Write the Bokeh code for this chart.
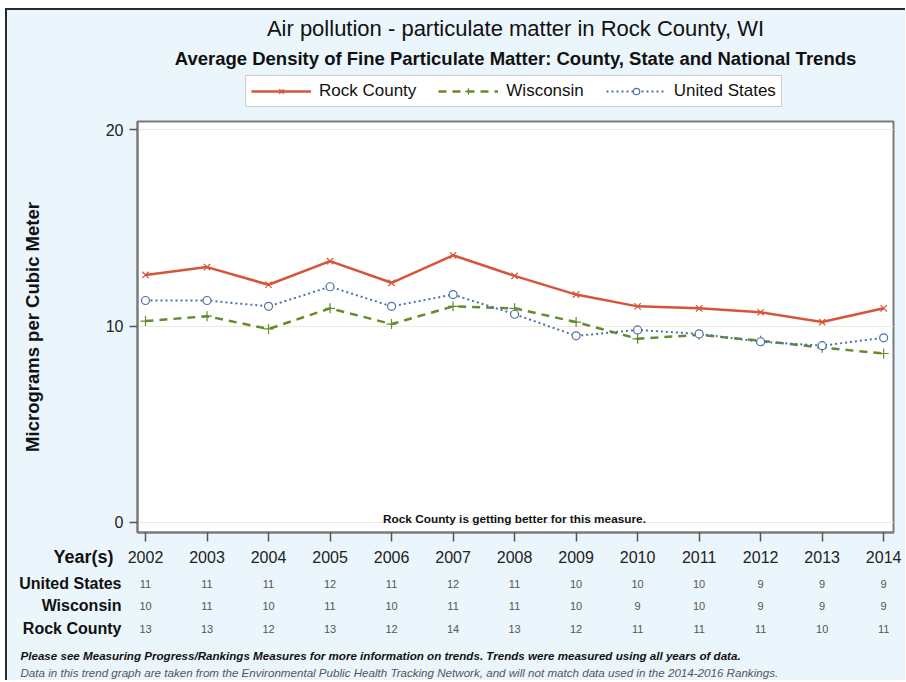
from bokeh.plotting import figure
from bokeh.layouts import column
from bokeh.models import (Label, LabelSet, ColumnDataSource, FixedTicker, Legend, LegendItem, Range1d)
from bokeh.core.properties import value
from bokeh.embed import file_html
from bokeh.resources import INLINE

# ---- data ----
years = [2002, 2003, 2004, 2005, 2006, 2007, 2008, 2009, 2010, 2011, 2012, 2013, 2014]
rock_county = [12.6, 13.0, 12.1, 13.3, 12.2, 13.6, 12.55, 11.6, 11.0, 10.9, 10.7, 10.2, 10.9]
wisconsin = [10.25, 10.5, 9.85, 10.9, 10.1, 11.0, 10.9, 10.2, 9.35, 9.55, 9.25, 8.9, 8.6]
united_states = [11.3, 11.3, 11.0, 12.0, 11.0, 11.6, 10.6, 9.5, 9.8, 9.6, 9.2, 9.0, 9.4]

year_labels = [str(y) for y in years]
tbl_us = ["11", "11", "11", "12", "11", "12", "11", "10", "10", "10", "9", "9", "9"]
tbl_wi = ["10", "11", "10", "11", "10", "11", "11", "10", "9", "10", "9", "9", "9"]
tbl_rock = ["13", "13", "12", "13", "12", "14", "13", "12", "11", "11", "11", "10", "11"]
y_ticks = [0, 10, 20]

title_text = "Air pollution - particulate matter in Rock County, WI"
subtitle_text = "Average Density of Fine Particulate Matter: County, State and National Trends"
note_text = "Rock County is getting better for this measure."
foot1 = "Please see Measuring Progress/Rankings Measures for more information on trends. Trends were measured using all years of data."
foot2 = "Data in this trend graph are taken from the Environmental Public Health Tracking Network, and will not match data used in the 2014-2016 Rankings."

FONT = "Liberation Sans"
BG = "#EBF5FC"
RED = "#D6553A"
GREEN = "#648C2C"
BLUE = "#4A72A6"
DARK = "#111111"

W = 898
H_A, H_B, H_C = 107, 429, 134
B_LEFT, B_RIGHT, B_TOP, B_BOTTOM = 130, 12, 4, 14
X0, X1 = 2001.87, 2014.16
frame_w = W - B_LEFT - B_RIGHT
px_per_year = frame_w / (X1 - X0)


def blank(h, xr, yr):
    f = figure(width=W, height=h, output_backend="svg", toolbar_location=None,
               x_axis_type=None, y_axis_type=None, x_range=xr, y_range=yr, min_border=0,
               frame_align=False)
    f.border_fill_color = BG
    f.background_fill_color = BG
    f.outline_line_color = None
    f.grid.visible = False
    return f


# styles shared by the series (plot and legend)
st_rock = dict(line_color=RED, line_width=2.5)
mk_rock = dict(marker="x", size=9, line_color=RED, line_width=1.2)
st_wi = dict(line_color=GREEN, line_width=2.5, line_dash="8 6")
mk_wi = dict(marker="cross", size=10, line_color=GREEN, line_width=1.2)
st_us = dict(line_color=BLUE, line_width=2, line_dash="2 3")
mk_us = dict(marker="circle", size=8, line_color=BLUE, fill_color="white", line_width=1.2)

# ---------------- header ----------------
A = blank(H_A, Range1d(0, W), Range1d(H_A, 0))
A.add_layout(Label(x=B_LEFT + frame_w / 2, y=18, text=title_text, text_align="center",
                   text_baseline="middle", text_font=FONT, text_font_size="22px", text_color=DARK))
A.add_layout(Label(x=B_LEFT + frame_w / 2, y=48, text=subtitle_text, text_align="center",
                   text_baseline="middle", text_font=FONT, text_font_size="18.5px",
                   text_font_style="bold", text_color=DARK))
# legend proxies: same series, lying outside this header's ranges (not visible)
l1 = A.line(years, rock_county, **st_rock)
s1 = A.scatter(years, rock_county, **mk_rock)
l2 = A.line(years, wisconsin, **st_wi)
s2 = A.scatter(years, wisconsin, **mk_wi)
l3 = A.line(years, united_states, **st_us)
s3 = A.scatter(years, united_states, **mk_us)
legend = Legend(items=[
    LegendItem(label="Rock County", renderers=[l1, s1]),
    LegendItem(label="Wisconsin", renderers=[l2, s2]),
    LegendItem(label="United States", renderers=[l3, s3]),
], orientation="horizontal", location=(238, 10))
legend.label_text_font = FONT
legend.label_text_font_size = "17px"
legend.label_text_color = DARK
legend.glyph_width = 60
legend.glyph_height = 16
legend.label_standoff = 8
legend.spacing = 22
legend.padding = 5
legend.margin = 0
legend.border_line_color = "#999999"
legend.border_line_width = 1
legend.background_fill_color = "white"
legend.background_fill_alpha = 1
A.add_layout(legend, "center")

# ---------------- main plot ----------------
B = figure(width=W, height=H_B, output_backend="svg", toolbar_location=None,
           x_range=Range1d(X0, X1), y_range=Range1d(-0.51, 20.41),
           min_border_left=B_LEFT, min_border_right=B_RIGHT,
           min_border_top=B_TOP, min_border_bottom=B_BOTTOM, frame_align=False)
B.border_fill_color = BG
B.background_fill_color = "white"
B.outline_line_color = "#7a7a7a"
B.outline_line_width = 2

B.xaxis.ticker = FixedTicker(ticks=years)
B.yaxis.ticker = FixedTicker(ticks=y_ticks)
for ax in (B.xaxis[0], B.yaxis[0]):
    ax.axis_line_color = "#7a7a7a"
    ax.axis_line_width = 2
    ax.major_tick_line_color = "#555555"
    ax.major_tick_line_width = 1.5
    ax.minor_tick_line_color = None
    ax.major_tick_in = 0
    ax.major_label_text_font = FONT
    ax.major_label_text_color = "#222222"
    ax.major_label_text_font_size = "16px"
B.xaxis.major_tick_out = 9
B.xaxis.major_label_standoff = 0
B.xaxis.major_label_text_font_size = "1px"
B.xaxis.major_label_text_color = None
B.xaxis.major_label_overrides = {y: "" for y in years}
B.yaxis.major_tick_out = 8
B.yaxis.major_label_standoff = 6
B.yaxis.axis_label = "Micrograms per Cubic Meter"
B.yaxis.axis_label_text_font = FONT
B.yaxis.axis_label_text_font_style = "bold"
B.yaxis.axis_label_text_font_size = "18.5px"
B.yaxis.axis_label_text_color = DARK
B.yaxis.axis_label_standoff = 60

B.xgrid.grid_line_color = None
B.ygrid.grid_line_color = "#ECEBD5"
B.ygrid.grid_line_width = 1

B.line(years, rock_county, **st_rock)
B.scatter(years, rock_county, **mk_rock)
B.line(years, wisconsin, **st_wi)
B.scatter(years, wisconsin, **mk_wi)
B.line(years, united_states, **st_us)
B.scatter(years, united_states, **mk_us)

B.add_layout(Label(x=frame_w / 2 - 1, y=14, x_units="screen", y_units="screen", text=note_text,
                   text_align="center", text_baseline="middle", text_font=FONT,
                   text_font_size="11.8px", text_font_style="bold", text_color=DARK))

# ---------------- table + footer ----------------
c_start = X0 - B_LEFT / px_per_year
C = blank(H_C, Range1d(c_start, c_start + W / px_per_year), Range1d(H_C, 0))

C.add_layout(Label(x=106, y=10, x_units="screen", text="Year(s)", text_align="right",
                   text_baseline="middle", text_font=FONT, text_font_size="18px",
                   text_font_style="bold", text_color=DARK))
ysrc = ColumnDataSource(dict(x=years, y=[10] * len(years), t=year_labels))
C.add_layout(LabelSet(x="x", y="y", text="t", source=ysrc, text_align="center",
                      text_baseline="middle", text_font=value(FONT),
                      text_font_size=value("16px"), text_color="#222222"))

row_names = ["United States", "Wisconsin", "Rock County"]
row_vals = [tbl_us, tbl_wi, tbl_rock]
row_y = [37, 59, 82]
for name, vals, yy in zip(row_names, row_vals, row_y):
    C.add_layout(Label(x=114, y=yy, x_units="screen", text=name, text_align="right",
                       text_baseline="middle", text_font=FONT, text_font_size="16px",
                       text_font_style="bold", text_color=DARK))
    src = ColumnDataSource(dict(x=years, y=[yy] * len(years), t=vals))
    C.add_layout(LabelSet(x="x", y="y", text="t", source=src, text_align="center",
                          text_baseline="middle", text_font=value(FONT),
                          text_font_size=value("11px"), text_color="#555555"))

C.add_layout(Label(x=13, y=109, x_units="screen", text=foot1, text_align="left",
                   text_baseline="middle", text_font=FONT, text_font_size="11.6px",
                   text_font_style="bold italic", text_color=DARK))
C.add_layout(Label(x=13, y=126, x_units="screen", text=foot2, text_align="left",
                   text_baseline="middle", text_font=FONT, text_font_size="11.6px",
                   text_font_style="italic", text_color="#555555"))

layout = column(A, B, C, spacing=0,
                styles={"margin-left": "5px", "margin-top": "8px",
                        "border-left": "2px solid #2a2a2a", "border-top": "2px solid #2a2a2a",
                        "background-color": BG})

open("out.html", "w").write(file_html(layout, INLINE))
